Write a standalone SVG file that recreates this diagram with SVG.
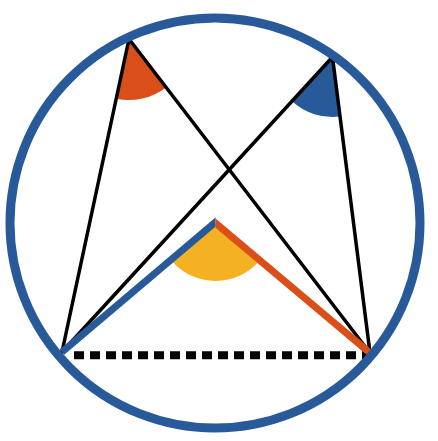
<svg xmlns="http://www.w3.org/2000/svg" width="438" height="441" viewBox="0 0 438 441">
  <style>
    .chord { stroke: #000; stroke-width: 3.5; fill: none; stroke-linecap: round; }
    .blue { fill: #285A9A; }
    .orange { fill: #DA4E1A; }
    .yellow { fill: #F4B223; }
  </style>
  <defs>
    <clipPath id="leftHalf"><rect x="0" y="0" width="215.5" height="441"/></clipPath>
    <clipPath id="rightHalf"><rect x="215.5" y="0" width="222.5" height="441"/></clipPath>
  </defs>
  <rect width="438" height="441" fill="#fff"/>
  <g id="angles">
    <path id="angle-A" class="orange" d="M129 39 L166.1 87.4 A61 61 0 0 1 116.2 98.65 Z"/>
    <path id="angle-B" class="blue" d="M332.5 57 L340 116.5 A60 60 0 0 1 292 101.3 Z"/>
    <path id="angle-O" class="yellow" d="M215.5 223 L259.9 260.3 A58 58 0 0 1 171.1 260.3 Z"/>
  </g>
  <g id="connectors">
    <line class="chord" x1="129" y1="39" x2="62" y2="352"/>
    <line class="chord" x1="129" y1="39" x2="370" y2="353"/>
    <line class="chord" x1="332.5" y1="57" x2="62" y2="352"/>
    <line class="chord" x1="332.5" y1="57" x2="370" y2="353"/>
    <line x1="74" y1="355.3" x2="370" y2="355.3" stroke="#000" stroke-width="8" stroke-dasharray="10 6"/>
    <line x1="62" y1="352" x2="230.8" y2="209" stroke="#285A9A" stroke-width="7" clip-path="url(#leftHalf)"/>
    <line x1="370" y1="353" x2="200.2" y2="210.1" stroke="#DA4E1A" stroke-width="7" clip-path="url(#rightHalf)"/>
  </g>
  <g id="circle">
    <circle cx="215" cy="223" r="205" fill="none" stroke="#285A9A" stroke-width="9"/>
  </g>
</svg>
